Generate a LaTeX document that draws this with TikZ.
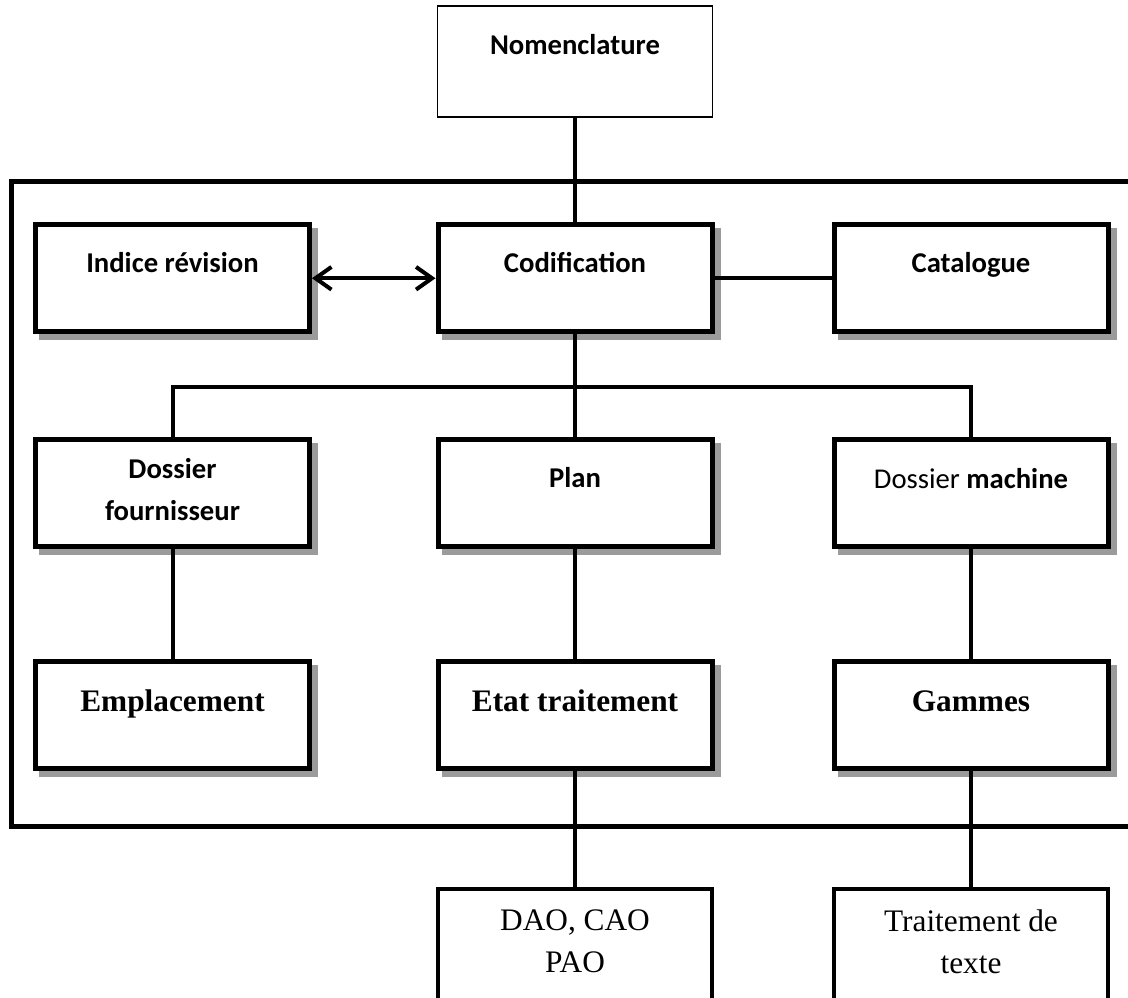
\documentclass[tikz,border=0pt]{standalone}
\usepackage{fontspec}
\setmainfont{Liberation Serif}
\newfontfamily\califont{Carlito}
\usetikzlibrary{arrows.meta,shadows}
\definecolor{shgray}{HTML}{9B9B9B}
\tikzset{
  box/.style={draw, line width=3.75pt, fill=white, minimum width=205.5pt, minimum height=80.5pt, inner sep=0pt,
    drop shadow={shadow xshift=4.5pt, shadow yshift=-4.5pt, fill=shgray, draw=shgray, line width=3.75pt, opacity=1}},
  plainbox/.style={draw, line width=3.5pt, fill=white, minimum width=205.5pt, minimum height=105.75pt, inner sep=0pt},
  thinbox/.style={draw, line width=1.2pt, fill=white, minimum width=206.25pt, minimum height=83.25pt, inner sep=0pt},
  ctxt/.style={font=\califont\bfseries\fontsize{21.5}{31.5}\selectfont, align=center, anchor=base, inner sep=0pt},
  crtxt/.style={font=\califont\fontsize{21.5}{31.5}\selectfont, align=center, anchor=base, inner sep=0pt},
  tbtxt/.style={font=\bfseries\fontsize{23.5}{31.5}\selectfont, align=center, anchor=base, inner sep=0pt},
  ttxt/.style={font=\fontsize{23.5}{31.5}\selectfont, align=center, anchor=base, inner sep=0pt},
  conn/.style={line width=3pt},
  frame/.style={line width=4.2pt},
}
\begin{document}
\begin{tikzpicture}[x=0.75pt,y=-0.75pt]
\clip (0,0) rectangle (1128,998);
\fill[white] (0,0) rectangle (1128,998);

% outer frame (right side beyond the page)
\draw[frame] (1140,181.5) -- (11.5,181.5) -- (11.5,826.5) -- (1140,826.5);

% boxes
\node[thinbox] (nom) at (575,61.5) {};
\node[box] (ind) at (172.5,278.25) {};
\node[box] (cod) at (575,278.25) {};
\node[box] (cat) at (971,278.25) {};
\node[box] (dof) at (172.5,493) {};
\node[box] (pla) at (575,493) {};
\node[box] (dma) at (971,493) {};
\node[box] (emp) at (172.5,715) {};
\node[box] (eta) at (575,715) {};
\node[box] (gam) at (971,715) {};
\node[plainbox] (dao) at (575,959.5) {};
\node[plainbox] (tdt) at (971,959.5) {};

% connectors
\coordinate (bus) at (575,387);
\draw[conn] (nom.south) -- (cod.north);
\draw[conn, {Straight Barb[length=12pt,width=17pt]}-{Straight Barb[length=12pt,width=17pt]}] (ind.east) -- (cod.west);
\draw[conn] (cod.east) -- (cat.west);
\draw[conn] (cod.south) -- (pla.north);
\draw[conn] (dof.north) |- (bus) -| (dma.north);
\draw[conn] (dof.south) -- (emp.north);
\draw[conn] (pla.south) -- (eta.north);
\draw[conn] (dma.south) -- (gam.north);
\draw[conn] (eta.south) -- (dao.north);
\draw[conn] (gam.south) -- (tdt.north);

% texts (multi-line nodes: base = last line)
\node[ctxt] (tnom) at (575,55) {Nomenclature};
\node[ctxt] (tind) at (172.5,273) {Indice révision};
\node[ctxt] (tcod) at (575,273) {Codification};
\node[ctxt] (tcat) at (971,273) {Catalogue};
\node[ctxt] (tdof) at (172.5,520) {Dossier\\fournisseur};
\node[ctxt] (tpla) at (575,487) {Plan};
\node[crtxt] (tdma) at (971,488) {Dossier \textbf{machine}};
\node[tbtxt] (temp) at (172.5,711) {Emplacement};
\node[tbtxt] (teta) at (575,711) {Etat traitement};
\node[tbtxt] (tgam) at (971,711) {Gammes};
\node[ttxt] (tdao) at (575,972) {DAO, CAO\\PAO};
\node[ttxt] (ttdt) at (971,973) {Traitement de\\texte};
\end{tikzpicture}
\end{document}
